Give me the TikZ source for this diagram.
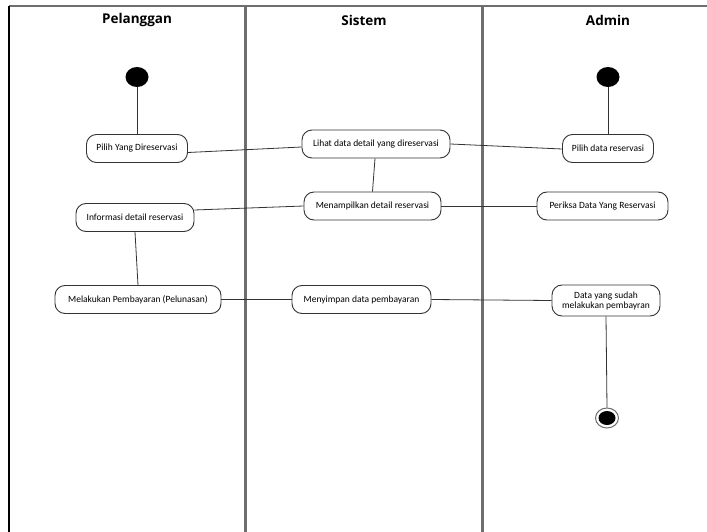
\documentclass[tikz,border=0pt]{standalone}
\usepackage{fontspec}
\setmainfont{Carlito}
\newfontfamily\headfont{Open Sans}
\usetikzlibrary{shapes.geometric}
\definecolor{lanegray}{HTML}{6E6E6E}
\definecolor{boxline}{HTML}{333333}
\tikzset{
  act/.style={draw=boxline, line width=0.9pt, rounded corners=10pt, fill=white,
    font=\fontsize{9.5}{10.5}\selectfont, inner xsep=6pt, minimum height=28pt, align=center},
  head/.style={font=\headfont\bfseries\fontsize{13.5}{15}\selectfont},
  startnode/.style={ellipse, fill=black, minimum width=23pt, minimum height=20pt, inner sep=0pt},
  endnode/.style={ellipse, draw=lanegray, line width=1pt, fill=white, minimum width=23pt, minimum height=20pt, inner sep=0pt},
  link/.style={draw=boxline, line width=0.8pt},
}
\begin{document}
\begin{tikzpicture}[x=1pt, y=-1pt]
\useasboundingbox (0,0) rectangle (707,532);
% frame
\draw[lanegray, line width=2pt] (9,6) -- (707,6);
\draw[black, line width=2pt] (9,6) -- (9,532);
\draw[lanegray, line width=3pt] (245,6) -- (245,532);
\draw[lanegray, line width=3pt] (482,6) -- (482,532);
% headers
\node[head] (hp) at (137,20) {Pelanggan};
\node[head] (hs) at (364,20) {Sistem};
\node[head] (ha) at (608,20) {Admin};
% start nodes
\node[startnode] (s1) at (137,77) {};
\node[startnode] (s2) at (608,77) {};
% activities
\node[act, minimum width=101pt] (n1) at (137,148.5) {Pilih Yang Direservasi};
\node[act, minimum width=148pt] (n2) at (376,144) {Lihat data detail yang direservasi};
\node[act, minimum width=91pt] (n3) at (608,148.5) {Pilih data reservasi};
\node[act, minimum width=118pt] (n4) at (135,217.5) {Informasi detail reservasi};
\node[act, minimum width=137pt] (n5) at (372.5,206) {Menampilkan detail reservasi};
\node[act, minimum width=131pt] (n6) at (602.5,206) {Periksa Data Yang Reservasi};
\node[act, minimum width=166pt] (n7) at (138,299.5) {Melakukan Pembayaran (Pelunasan)};
\node[act, minimum width=108pt, minimum height=31pt, font=\fontsize{9.5}{10}\selectfont] (n9) at (606,300.5) {Data yang sudah\\melakukan pembayran};
\node[act, minimum width=139pt] (n8) at (361.5,299.5) {Menyimpan data pembayaran};
% end node
\node[endnode] (e) at (607,418) {};
\fill[black] (e.center) ellipse (8.5pt and 7pt);
% connectors
\draw[link] (s1) -- (n1);
\draw[link] (s2) -- (n3);
\draw[link] (n1.east) ++(0,4) coordinate (n1e) -- (n2.west |- 0,147) coordinate (n2w);
\draw[link] (n2.east) -- (n3.west |- 0,149) coordinate (n3w);
\draw[link] (n2.south) ++(-1,0) coordinate (n2s) -- (n5.north);
\draw[link] (n5.west) -- (n4.east |- 0,210) coordinate (n4e);
\draw[link] (n5.east) -- (n6.west);
\draw[link] (n4.south) -- (n7.north);
\draw[link] (n7.east) -- (n8.west);
\draw[link] (n8.east) -- (n9.west);
\draw[link] (n9.south) -- (e.north);
\end{tikzpicture}
\end{document}
